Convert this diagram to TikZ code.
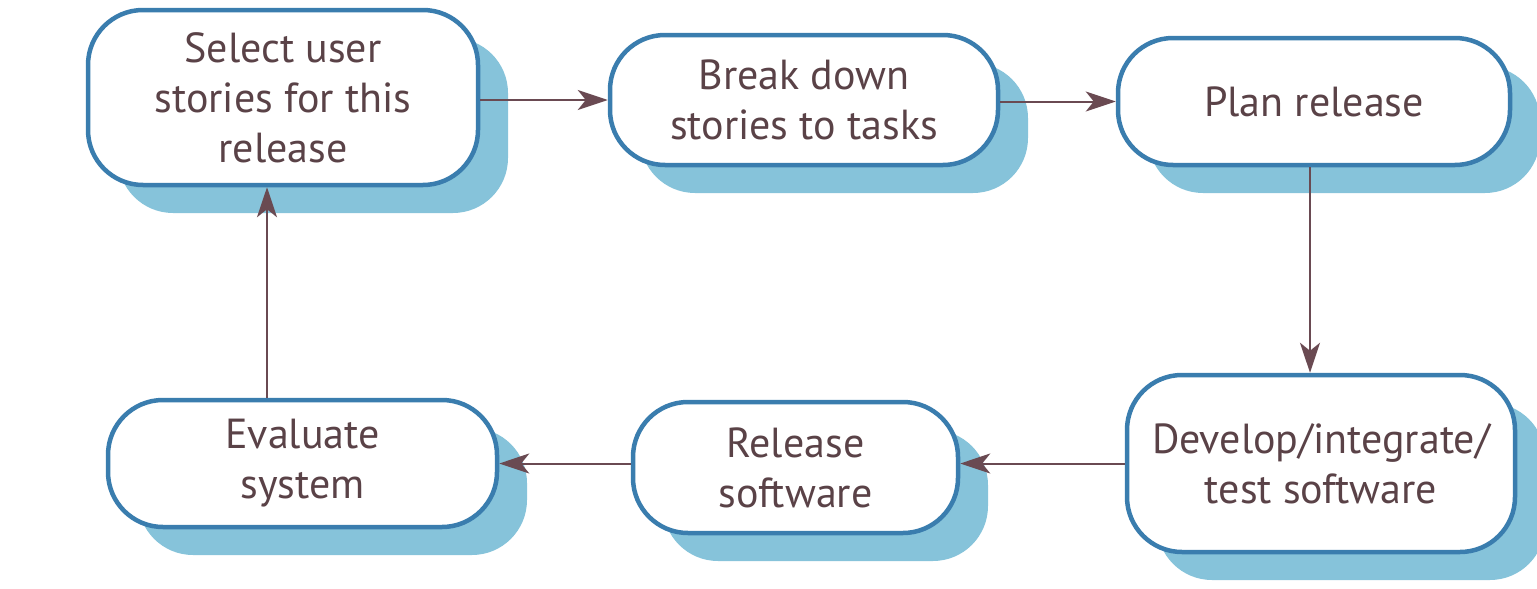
\documentclass[tikz,border=0pt]{standalone}
\usepackage{fontspec}
\setmainfont{PT Sans}
\usetikzlibrary{arrows.meta,shadows}
\definecolor{boxblue}{HTML}{3A7DAE}
\definecolor{shadowblue}{HTML}{86C3DA}
\definecolor{txt}{HTML}{5A4247}
\definecolor{arr}{HTML}{6A4A52}
\tikzset{
  stepbox/.style={draw=boxblue, line width=4.5pt, fill=white, rounded corners=55pt,
    text=txt, align=center, inner sep=0pt,
    font=\fontsize{42}{50}\selectfont,
    drop shadow={shadow xshift=30pt, shadow yshift=-28pt, fill=shadowblue, opacity=1}},
  flow/.style={draw=arr, line width=2pt, -{Stealth[length=30pt,width=20pt,inset=8pt]}}
}
\begin{document}
\begin{tikzpicture}[x=1pt,y=-1pt]
\useasboundingbox (0,0) rectangle (1537,589);
\node[stepbox, minimum width=390pt, minimum height=175pt] (sel) at (283,97.5) {Select user\\stories for this\\release};
\node[stepbox, minimum width=388pt, minimum height=130pt] (brk) at (804,100) {Break down\\stories to tasks};
\node[stepbox, minimum width=392pt, minimum height=127pt] (plan) at (1314,101.5) {Plan release};
\node[stepbox, minimum width=388pt, minimum height=177pt] (dev) at (1321,463.5) {Develop/integrate/\\test software};
\node[stepbox, minimum width=325pt, minimum height=131pt] (rel) at (795.5,467.5) {Release\\software};
\node[stepbox, minimum width=389pt, minimum height=127pt] (eval) at (302.5,463.5) {Evaluate\\system};
\draw[flow] (brk.west -| sel.east) -- (brk.west);
\draw[flow] (plan.west -| brk.east) -- (plan.west);
\draw[flow] ([xshift=-4pt]plan.south) -- ([xshift=-4pt]plan.south |- dev.north);
\draw[flow] (dev.west) -- (dev.west -| rel.east);
\draw[flow] (eval.east -| rel.west) -- (eval.east);
\draw[flow] ([xshift=-35.5pt]eval.north) -- ([xshift=-35.5pt]eval.north |- sel.south);
\end{tikzpicture}
\end{document}
